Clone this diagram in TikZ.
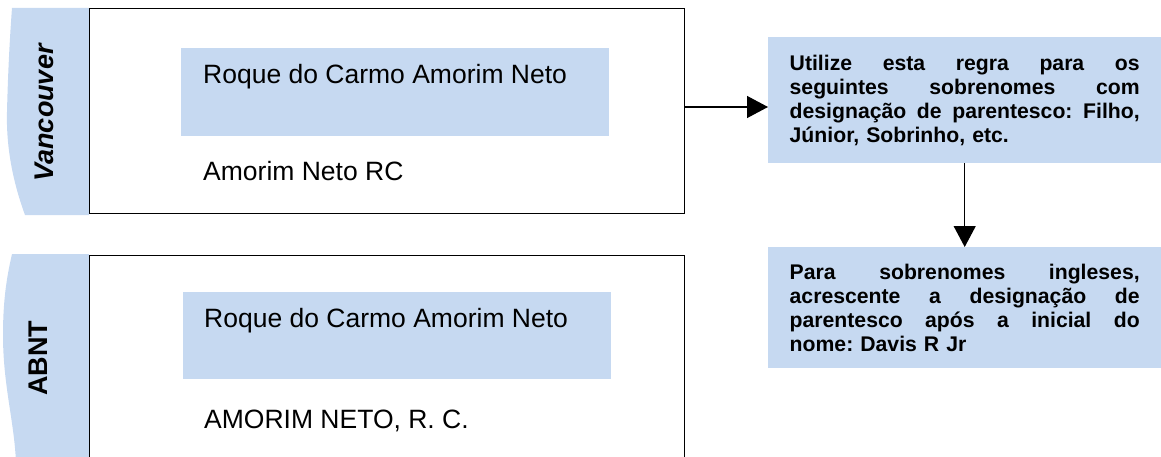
\documentclass[tikz,border=0pt]{standalone}
\usepackage{fontspec}
\setmainfont{Liberation Sans}
\usetikzlibrary{arrows.meta}
\definecolor{paleblue}{RGB}{198,217,241}
\frenchspacing
\newcommand{\jline}[1]{\leavevmode\hbox to 350pt{#1}}
\newcommand{\g}{\hfill}
\begin{document}
\begin{tikzpicture}[x=1pt,y=-1pt,
  tab/.style={fill=paleblue,draw=none},
  outerbox/.style={draw=black,line width=1.3pt,rectangle,inner sep=0pt,anchor=north west},
  namebox/.style={fill=paleblue,rectangle,inner sep=0pt,anchor=north west},
  nametext/.style={anchor=base west,inner sep=0pt,font=\fontsize{26.5}{30}\selectfont},
  tablabel/.style={rotate=90,anchor=base,inner sep=0pt,font=\fontsize{27}{30}\selectfont\bfseries},
  rulebox/.style={fill=paleblue,rectangle,anchor=north west,inner xsep=21.5pt,inner ysep=0pt,
    minimum width=393pt,text width=350pt,align=left,font=\fontsize{21.2}{24}\selectfont\bfseries\frenchspacing},
  arr/.style={draw=black,line width=1.3pt,-{Triangle[length=21pt,width=22pt]}}
]
\useasboundingbox (0,0) rectangle (1161,457);
% tabs
\path[tab] (12,8) -- (89,8) -- (89,215) -- (25,215)
  .. controls (14,185) and (6,150) .. (7,112)
  .. controls (8,70) and (10,35) .. (12,8) -- cycle;
\path[tab] (12,254) -- (89,254) -- (89,462) -- (16,462)
  .. controls (14,420) and (3,385) .. (3,335)
  .. controls (3,295) and (8,272) .. (12,254) -- cycle;
\node[tablabel] (vlab) at (53,113) {\itshape Vancouver};
\node[tablabel] (alab) at (47,358) {ABNT};
% outer boxes
\node[outerbox,minimum width=595pt,minimum height=205pt] (vbox) at (89,8) {};
\node[outerbox,minimum width=595pt,minimum height=215pt] (abox) at (89,255) {};
% inner blue boxes
\node[namebox,minimum width=428pt,minimum height=88pt] (vname) at (181,48) {};
\node[namebox,minimum width=428pt,minimum height=87pt] (aname) at (183,292) {};
\node[nametext] (vfull) at (203,84) {Roque do Carmo Amorim Neto};
\node[nametext] (vref) at (203,181) {Amorim Neto RC};
\node[nametext] (afull) at (204,327.5) {Roque do Carmo Amorim Neto};
\node[nametext] (aref) at (204,428) {AMORIM NETO, R. C.};
% rule boxes
\node[rulebox,minimum height=126pt] (rule1) at (768,37) {%
\jline{Utilize\g esta\g regra\g para\g os}\\
\jline{seguintes\g sobrenomes\g com}\\
\jline{designação\g de\g parentesco:\g Filho,}\\
Júnior, Sobrinho, etc.};
\node[rulebox,minimum height=121pt] (rule2) at (768,247) {%
\jline{Para\g sobrenomes\g ingleses,}\\
\jline{acrescente\g a\g designação\g de}\\
\jline{parentesco\g após\g a\g inicial\g do}\\
nome: Davis R Jr};
% connectors
\coordinate (ay) at (0,107);
\draw[arr] (vbox.east |- ay) -- (rule1.west |- ay);
\draw[arr] (rule1.south) -- (rule2.north);
\end{tikzpicture}
\end{document}
